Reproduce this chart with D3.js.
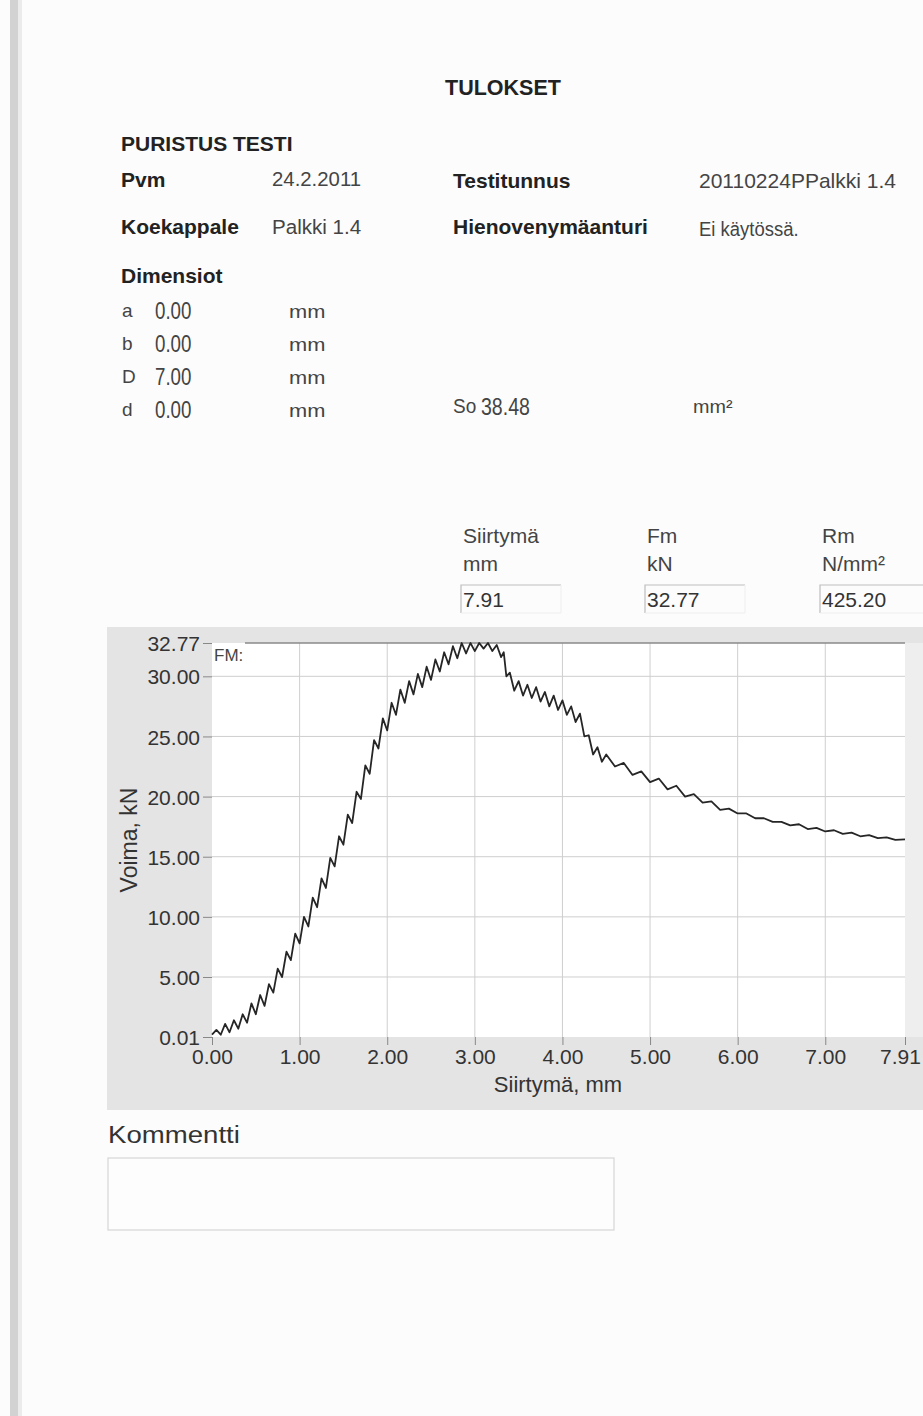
<!DOCTYPE html>
<html>
<head>
<meta charset="utf-8">
<script src="https://cdn.jsdelivr.net/npm/d3@7"></script>
<style>
  body { margin: 0; background: #fcfcfc; }
  svg { display: block; font-family: "Liberation Sans", Arial, sans-serif; }
</style>
</head>
<body>
<script>
// tick values
const xTicks = [0, 1, 2, 3, 4, 5, 6, 7, 7.91];
const yTicks = [0.01, 5, 10, 15, 20, 25, 30, 32.77];

// Siirtymä (mm) / Voima (kN)
const disp = [
  0.00, 0.05, 0.10, 0.15, 0.20, 0.25, 0.30, 0.35, 0.40, 0.45,
  0.50, 0.55, 0.60, 0.65, 0.70, 0.75, 0.80, 0.85, 0.90, 0.95,
  1.00, 1.05, 1.10, 1.15, 1.20, 1.25, 1.30, 1.35, 1.40, 1.45,
  1.50, 1.55, 1.60, 1.65, 1.70, 1.75, 1.80, 1.85, 1.90, 1.95,
  2.00, 2.05, 2.10, 2.15, 2.20, 2.25, 2.30, 2.35, 2.40, 2.45,
  2.50, 2.55, 2.60, 2.65, 2.70, 2.75, 2.80, 2.85, 2.90, 2.95,
  3.00, 3.05, 3.10, 3.15, 3.20, 3.25, 3.30, 3.33, 3.36, 3.40,
  3.45, 3.50, 3.55, 3.60, 3.65, 3.70, 3.75, 3.80, 3.85, 3.90,
  3.95, 4.00, 4.05, 4.10, 4.15, 4.20, 4.25, 4.30, 4.35, 4.40,
  4.45, 4.50, 4.60, 4.70, 4.80, 4.90, 5.00, 5.10, 5.20, 5.30,
  5.40, 5.50, 5.60, 5.70, 5.80, 5.90, 6.00, 6.10, 6.20, 6.30,
  6.40, 6.50, 6.60, 6.70, 6.80, 6.90, 7.00, 7.10, 7.20, 7.30,
  7.40, 7.50, 7.60, 7.70, 7.80, 7.91
];
const force = [
  0.2, 0.6, 0.2, 1.1, 0.4, 1.4, 0.7, 1.9, 1.2, 2.8,
  1.9, 3.5, 2.6, 4.4, 3.7, 5.7, 5.0, 7.1, 6.4, 8.6,
  7.8, 10.0, 9.2, 11.6, 10.8, 13.2, 12.4, 14.9, 14.2, 16.7,
  16.0, 18.5, 17.8, 20.4, 19.8, 22.6, 21.9, 24.7, 24.0, 26.5,
  25.5, 27.8, 26.8, 28.9, 27.8, 29.6, 28.5, 30.2, 29.1, 30.8,
  29.7, 31.4, 30.4, 32.0, 31.0, 32.5, 31.5, 32.77, 31.9, 32.77,
  32.1, 32.77, 32.3, 32.77, 32.1, 32.6, 31.6, 32.0, 30.0, 30.3,
  28.8, 29.6, 28.4, 29.3, 28.2, 29.1, 27.9, 28.7, 27.5, 28.4,
  27.2, 28.0, 26.8, 27.5, 26.2, 26.9, 25.0, 25.1, 23.5, 24.1,
  22.9, 23.5, 22.5, 22.8, 21.8, 22.1, 21.2, 21.5, 20.6, 20.9,
  20.0, 20.2, 19.5, 19.6, 18.9, 19.0, 18.6, 18.6, 18.2, 18.2,
  17.9, 17.9, 17.6, 17.7, 17.3, 17.4, 17.1, 17.2, 16.9, 17.0,
  16.7, 16.8, 16.55, 16.6, 16.4, 16.45
];

// dimension rows
const dimKeys = ["a", "b", "D", "d"];
const dimVals = ["0.00", "0.00", "7.00", "0.00"];

// result fields
const resNames = ["Siirtymä", "Fm", "Rm"];
const resUnits = ["mm", "kN", "N/mm²"];
const resVals = ["7.91", "32.77", "425.20"];

const W = 923, H = 1416;
const svg = d3.select("body").append("svg")
    .attr("width", W)
    .attr("height", H);

svg.append("rect").attr("width", W).attr("height", H).attr("fill", "#fcfcfc");
// scanner edge on the left
svg.append("rect").attr("x", 10).attr("y", 0).attr("width", 8).attr("height", H).attr("fill", "#d2d2d2");
svg.append("rect").attr("x", 18).attr("y", 0).attr("width", 4).attr("height", H).attr("fill", "#ebebeb");

// small helper for header text, sx squeezes/stretches horizontally
function txt(x, y, s, size, opt = {}) {
  const sx = opt.sx || 1;
  return svg.append("text")
      .attr("transform", `translate(${x},${y}) scale(${sx},1)`)
      .attr("font-size", size)
      .attr("font-weight", opt.bold ? "bold" : "normal")
      .attr("fill", opt.color || "#333")
      .attr("text-anchor", opt.anchor || "start")
      .text(s);
}

txt(445, 95, "TULOKSET", 21.5, {bold: true, color: "#222"});
txt(121, 151, "PURISTUS TESTI", 21, {bold: true, color: "#222"});
txt(121, 187, "Pvm", 21, {bold: true, color: "#222"});
txt(272, 186, "24.2.2011", 21, {sx: 0.97, color: "#444"});
txt(453, 188, "Testitunnus", 21, {bold: true, color: "#222"});
txt(699, 188, "20110224PPalkki  1.4", 21, {sx: 1.0, color: "#444"});
txt(121, 234, "Koekappale", 21, {bold: true, color: "#222"});
txt(272, 234, "Palkki  1.4", 21, {sx: 0.98, color: "#444"});
txt(453, 234, "Hienovenymäanturi", 21, {bold: true, color: "#222"});
txt(699, 236, "Ei käytössä.", 21, {sx: 0.88, color: "#444"});
txt(121, 283, "Dimensiot", 21, {bold: true, color: "#222"});

const dimY = d3.scaleBand().domain(dimKeys.map((k, i) => i)).range([296, 428]);
dimKeys.forEach((k, i) => {
  const yy = dimY(i) + 22;
  txt(122, yy - 1, k, 19, {color: "#444"});
  txt(155, yy + 1, dimVals[i], 24, {sx: 0.78, color: "#444"});
  txt(289, yy, "mm", 19, {sx: 1.15, color: "#444"});
});
txt(453, 413, "So", 20, {sx: 0.95, color: "#444"});
txt(481, 415, "38.48", 23, {sx: 0.85, color: "#444"});
txt(693, 413, "mm²", 18, {sx: 1.1, color: "#444"});

// result boxes
const resX = [463, 647, 822];
resNames.forEach((n, i) => {
  txt(resX[i], 543, n, 21, {color: "#444"});
  txt(resX[i], 571, resUnits[i], 21, {color: "#444"});
  const bx = resX[i] - 2, bw = i === 2 ? 110 : 100;
  svg.append("path")
      .attr("d", `M${bx},${613}V${585}H${bx + bw}`)
      .attr("fill", "none").attr("stroke", "#bdbdbd").attr("stroke-width", 1.2);
  svg.append("path")
      .attr("d", `M${bx},${613}H${bx + bw}V${585}`)
      .attr("fill", "none").attr("stroke", "#eeeeee").attr("stroke-width", 1);
  txt(resX[i], 607, resVals[i], 21, {color: "#333"});
});

// chart panel
const x = d3.scaleLinear().domain([0, 7.91]).range([212, 905]);
const y = d3.scaleLinear().domain([0.01, 32.77]).range([1037, 643]);

svg.append("rect").attr("x", 107).attr("y", 627).attr("width", W - 107).attr("height", 1110 - 627)
    .attr("fill", "#e4e4e4");
svg.append("rect").attr("x", 905).attr("y", 643).attr("width", W - 905).attr("height", 1037 - 643)
    .attr("fill", "#eeeeee");
svg.append("rect").attr("x", x(0)).attr("y", y(32.77)).attr("width", x(7.91) - x(0)).attr("height", y(0.01) - y(32.77))
    .attr("fill", "#ffffff");

// grid
svg.append("g").selectAll("line")
  .data(xTicks.filter(d => d > 0 && d < 7.91))
  .join("line")
    .attr("x1", d => x(d)).attr("x2", d => x(d))
    .attr("y1", y(32.77)).attr("y2", y(0.01))
    .attr("stroke", "#cfcfcf").attr("stroke-width", 1);
svg.append("g").selectAll("line")
  .data(yTicks.filter(d => d > 0.01 && d < 32.77))
  .join("line")
    .attr("x1", x(0)).attr("x2", x(7.91))
    .attr("y1", d => y(d)).attr("y2", d => y(d))
    .attr("stroke", "#cfcfcf").attr("stroke-width", 1);

// Fm line
svg.append("line")
    .attr("x1", 245).attr("x2", x(7.91))
    .attr("y1", y(32.77)).attr("y2", y(32.77))
    .attr("stroke", "#8a8a8a").attr("stroke-width", 1.6);
svg.append("text")
    .attr("x", 214).attr("y", 661)
    .attr("font-size", 17).attr("fill", "#444")
    .text("FM:");

const fmt = d3.format(".2f");
const yAxis = svg.append("g")
    .attr("transform", `translate(${x(0)},0)`)
    .call(d3.axisLeft(y).tickValues(yTicks).tickFormat(fmt).tickSize(9).tickPadding(3));
const xAxis = svg.append("g")
    .attr("transform", `translate(0,${y(0.01)})`)
    .call(d3.axisBottom(x).tickValues(xTicks).tickFormat(fmt).tickSize(8).tickPadding(4));
[xAxis, yAxis].forEach(a => {
  a.select(".domain").remove();
  a.selectAll(".tick line").attr("stroke", "#888");
  a.selectAll(".tick text")
      .attr("font-size", 21)
      .attr("font-family", "Liberation Sans, Arial, sans-serif")
      .attr("fill", "#333");
});
yAxis.selectAll(".tick text").attr("dy", "0.36em");
// last label sits against the page edge, nudge it in
xAxis.selectAll(".tick text").filter(d => d === 7.91).attr("dx", -5);

svg.append("text")
    .attr("x", 558).attr("y", 1092)
    .attr("text-anchor", "middle")
    .attr("font-size", 22).attr("fill", "#333")
    .text("Siirtymä, mm");
svg.append("text")
    .attr("transform", `translate(137,${840}) rotate(-90)`)
    .attr("text-anchor", "middle")
    .attr("font-size", 23).attr("fill", "#333")
    .text("Voima, kN");

// trace
const line = d3.line()
    .x((d, i) => x(disp[i]))
    .y((d, i) => y(force[i]));
svg.append("path")
    .datum(force)
    .attr("d", line)
    .attr("fill", "none")
    .attr("stroke", "#262626")
    .attr("stroke-width", 1.8)
    .attr("stroke-linejoin", "round");

// comment box
txt(108, 1143, "Kommentti", 24, {sx: 1.15, color: "#333"});
svg.append("rect")
    .attr("x", 108).attr("y", 1158).attr("width", 506).attr("height", 72)
    .attr("fill", "#fdfdfd").attr("stroke", "#d6d6d6").attr("stroke-width", 1.2);
</script>
</body>
</html>
